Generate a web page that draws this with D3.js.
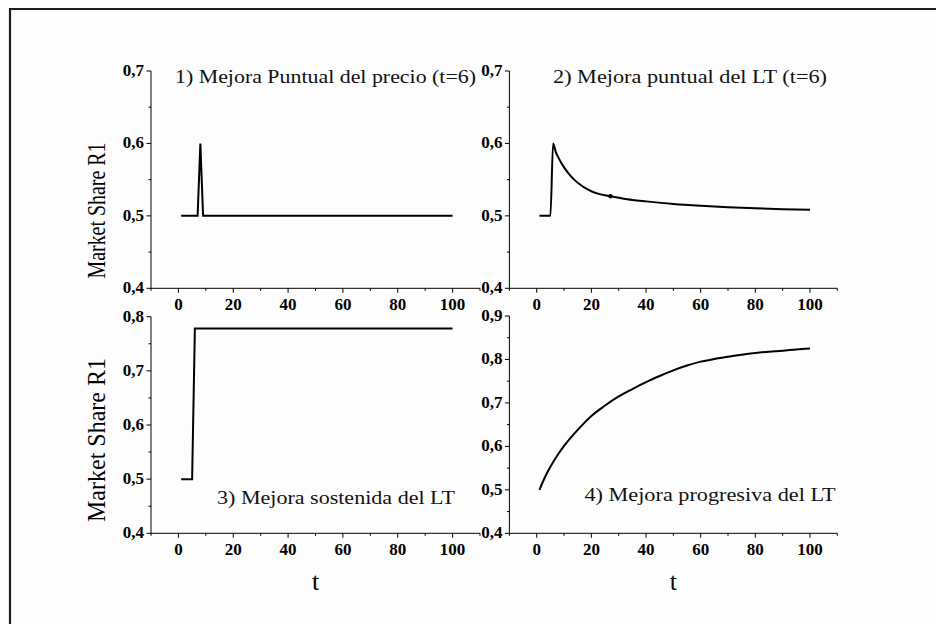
<!DOCTYPE html>
<html><head><meta charset="utf-8">
<script src="https://cdn.jsdelivr.net/npm/d3@7"></script>
<style>html,body{margin:0;padding:0;background:#fff;}svg{display:block;}</style>
</head><body>
<script>
// ---- data ----
const xTicks = [0, 20, 40, 60, 80, 100];
const p1T = [1, 7, 8, 9, 100];
const p1V = [0.5, 0.5, 0.6, 0.5, 0.5];
const p2T = [1, 5, 6, 7, 8, 9, 10, 12, 14, 16, 18, 20, 23, 27, 30, 35, 40, 50, 60, 70, 80, 90, 100];
const p2V = [0.5, 0.5, 0.6, 0.588, 0.58, 0.573, 0.567, 0.557, 0.549, 0.543, 0.538, 0.534, 0.530, 0.527, 0.525, 0.522, 0.520, 0.5165, 0.514, 0.512, 0.5105, 0.5093, 0.5083];
const p2MarkT = [27];
const p2MarkV = [0.527];
const p3T = [1, 5, 6, 100];
const p3V = [0.5, 0.5, 0.778, 0.778];
const p4T = [1, 3, 5, 7, 10, 15, 20, 25, 30, 35, 40, 45, 50, 55, 60, 65, 70, 75, 80, 85, 90, 95, 100];
const p4V = [0.5, 0.529, 0.553, 0.574, 0.601, 0.638, 0.670, 0.694, 0.715, 0.732, 0.748, 0.762, 0.775, 0.786, 0.795, 0.801, 0.806, 0.811, 0.815, 0.818, 0.820, 0.823, 0.825];
const yTicksTop = [0.4, 0.5, 0.6, 0.7];
const yTicks3 = [0.4, 0.5, 0.6, 0.7, 0.8];
const yTicks4 = [0.4, 0.5, 0.6, 0.7, 0.8, 0.9];
const titles = ["1) Mejora Puntual del precio (t=6)", "2) Mejora puntual del LT (t=6)", "3) Mejora sostenida del LT", "4) Mejora progresiva del LT"];
const yLabel = "Market Share R1";
const xLabel = "t";

const W = 936, H = 624;
const svg = d3.select("body").append("svg").attr("width", W).attr("height", H);
svg.append("rect").attr("x", 9).attr("y", 8).attr("width", W - 9).attr("height", H - 8).attr("fill", "#fdfdfd");
svg.append("path").attr("d", `M10,${H} V9 H${W}`).attr("fill", "none").attr("stroke", "#1e1e1e").attr("stroke-width", 2.2);

const serif = "Liberation Serif";
const fmt = d => d3.format(".1f")(d).replace(".", ",");

const panels = [
  {T: p1T, V: p1V, x0: 151, x1: 480, y0: 288.3, y1: 71, yd: [0.4, 0.7], yt: yTicksTop, title: titles[0], tx: 175, ty: 83, tl: 301, curve: d3.curveLinear},
  {T: p2T, V: p2V, x0: 509.4, x1: 837.3, y0: 288.3, y1: 71, yd: [0.4, 0.7], yt: yTicksTop, title: titles[1], tx: 553, ty: 83, tl: 274, curve: d3.curveMonotoneX, mark: true},
  {T: p3T, V: p3V, x0: 151, x1: 480, y0: 533.3, y1: 316.7, yd: [0.4, 0.8], yt: yTicks3, title: titles[2], tx: 217, ty: 504, tl: 238, curve: d3.curveLinear},
  {T: p4T, V: p4V, x0: 509.4, x1: 837.3, y0: 533.3, y1: 316, yd: [0.4, 0.9], yt: yTicks4, title: titles[3], tx: 584.5, ty: 501, tl: 251, curve: d3.curveMonotoneX}
];

panels.forEach((p, i) => {
  const x = d3.scaleLinear().domain([-10, 110]).range([p.x0, p.x1]);
  const y = d3.scaleLinear().domain(p.yd).range([p.y0, p.y1]);
  const g = svg.append("g");
  // x axis
  const xMinor = d3.range(-10, 111, 10).filter(v => !xTicks.includes(v));
  const gx = g.append("g").attr("transform", `translate(0,${p.y0})`);
  gx.append("line").attr("x1", p.x0).attr("x2", p.x1).attr("stroke", "#000").attr("stroke-width", 1);
  gx.selectAll(".mj").data(xTicks).join("line").attr("x1", d => x(d)).attr("x2", d => x(d)).attr("y1", 0).attr("y2", 4.5).attr("stroke", "#000");
  gx.selectAll(".mn").data(xMinor).join("line").attr("x1", d => x(d)).attr("x2", d => x(d)).attr("y1", 0).attr("y2", 2.5).attr("stroke", "#000");
  gx.selectAll("text").data(xTicks).join("text").attr("x", d => x(d)).attr("y", 21.5)
    .attr("text-anchor", "middle").attr("font-family", serif).attr("font-weight", "bold").attr("font-size", 17).text(d => d);
  // y axis
  const gy = g.append("g").attr("transform", `translate(${p.x0},0)`);
  gy.append("line").attr("y1", p.y0).attr("y2", p.y1).attr("stroke", "#000").attr("stroke-width", 1);
  const yMinor = p.yt.slice(0, -1).map(v => v + 0.05);
  gy.selectAll(".mj").data(p.yt).join("line").attr("y1", d => y(d)).attr("y2", d => y(d)).attr("x1", 0).attr("x2", -4.5).attr("stroke", "#000");
  gy.selectAll(".mn").data(yMinor).join("line").attr("y1", d => y(d)).attr("y2", d => y(d)).attr("x1", 0).attr("x2", -2.5).attr("stroke", "#000");
  gy.selectAll("text").data(p.yt).join("text").attr("x", -7).attr("y", d => y(d) + 5)
    .attr("text-anchor", "end").attr("font-family", serif).attr("font-weight", "bold").attr("font-size", 17).text(fmt);
  // line
  const pts = p.T.map((t, k) => [t, p.V[k]]);
  g.append("path").datum(pts).attr("fill", "none").attr("stroke", "#000").attr("stroke-width", 2)
    .attr("stroke-linejoin", "miter").attr("d", d3.line().x(d => x(d[0])).y(d => y(d[1])).curve(p.curve));
  if (p.mark) {
    g.selectAll(".mk").data(p2MarkT.map((t, k) => [t, p2MarkV[k]])).join("circle")
      .attr("cx", d => x(d[0])).attr("cy", d => y(d[1])).attr("r", 2.2).attr("fill", "#000");
  }
  // title
  g.append("text").attr("x", p.tx).attr("y", p.ty).attr("font-family", serif).attr("font-size", 19.5)
    .attr("textLength", p.tl).attr("lengthAdjust", "spacingAndGlyphs").attr("fill", "#111").text(p.title);
  // y label on left panels
  if (i === 0 || i === 2) {
    const cy = i === 0 ? 210.5 : 440;
    const len = i === 0 ? 136 : 164;
    g.append("text").attr("transform", `translate(105,${cy}) rotate(-90)`).attr("text-anchor", "middle")
      .attr("font-family", serif).attr("font-size", 25).attr("textLength", len).attr("lengthAdjust", "spacingAndGlyphs")
      .text(yLabel);
  }
  if (i >= 2) {
    g.append("text").attr("x", x(50)).attr("y", 590).attr("text-anchor", "middle")
      .attr("font-family", serif).attr("font-size", 26).text(xLabel);
  }
});
</script>
</body></html>
